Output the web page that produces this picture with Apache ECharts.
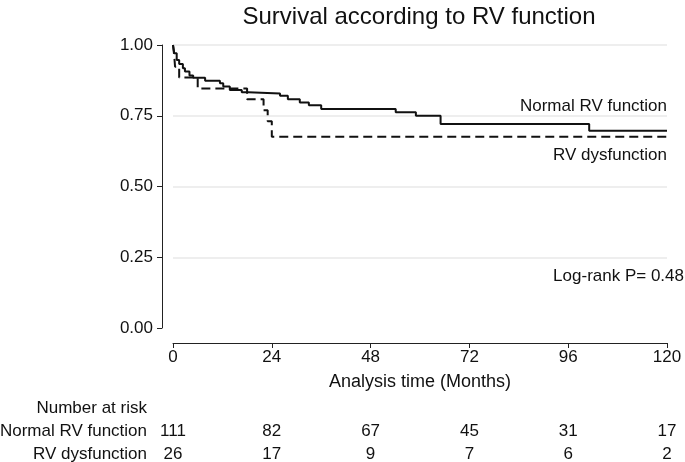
<!DOCTYPE html>
<html><head><meta charset="utf-8">
<script src="https://cdn.jsdelivr.net/npm/echarts@6/dist/echarts.min.js"></script>
<style>html,body{margin:0;padding:0;background:#fff}#c{width:685px;height:462px}</style>
</head><body><div id="c"></div>
<script>
// Kaplan-Meier step points [months, survival]
const normalRV = [[0,1],[0.3,0.971],[0.9,0.947],[1.5,0.933],[2.4,0.918],[2.9,0.906],[4.0,0.892],[4.9,0.884],[7.8,0.874],[11.4,0.865],[12.2,0.853],[13.8,0.841],[16.7,0.833],[18.3,0.829],[26,0.821],[27.9,0.808],[30.8,0.797],[33,0.787],[36,0.774],[54.1,0.762],[59,0.750],[65,0.721],[101.1,0.697],[120,0.697]];
const rvDysfunction = [[0,1],[0.3,0.962],[0.5,0.923],[1.5,0.885],[6,0.846],[18,0.808],[22,0.769],[23,0.731],[24,0.676],[120,0.676]];
const seriesNames = ['Normal RV function','RV dysfunction'];
const xTicks = [0,24,48,72,96,120];
const yTicks = [0,0.25,0.5,0.75,1];
const riskNormal = [111,82,67,45,31,17];
const riskDys = [26,17,9,7,6,2];
const pValueText = 'Log-rank P= 0.48';

const FONT = 'Liberation Sans, Arial, sans-serif';
const TXT = '#111';
const chart = echarts.init(document.getElementById('c'), null, {renderer:'canvas'});
const xStep = xTicks[1]-xTicks[0];
function riskAxis(values, margin){
  return {type:'value', gridIndex:0, position:'bottom', offset:15, min:xTicks[0], max:xTicks[xTicks.length-1], interval:xStep,
    axisLine:{show:false, onZero:false}, axisTick:{show:false}, splitLine:{show:false},
    axisLabel:{margin:margin, fontSize:17, color:TXT, fontFamily:FONT, showMinLabel:true, showMaxLabel:true,
      formatter:v=>{const i=xTicks.indexOf(v);return i>=0?String(values[i]):'';}}};
}
chart.setOption({
  animation:false,
  backgroundColor:'#fff',
  title:{text:'Survival according to RV function', left:414, textAlign:'center', top:0,
    textStyle:{fontSize:24, fontWeight:'normal', color:TXT, fontFamily:FONT}},
  grid:{left:173, right:18, top:45, bottom:134, containLabel:false, outerBoundsMode:'none'},
  xAxis:[
    {type:'value', gridIndex:0, position:'bottom', offset:15, min:xTicks[0], max:xTicks[xTicks.length-1], interval:xStep,
      name:'Analysis time (Months)', nameLocation:'middle', nameGap:30,
      nameTextStyle:{fontSize:18, color:TXT, fontFamily:FONT},
      axisLine:{show:true, onZero:false, lineStyle:{color:'#222', width:1}},
      axisTick:{show:true, length:5, lineStyle:{color:'#222'}},
      axisLabel:{margin:6, fontSize:17, color:TXT, fontFamily:FONT, showMinLabel:true, showMaxLabel:true},
      splitLine:{show:false}},
    riskAxis(riskNormal, 80),
    riskAxis(riskDys, 103)
  ],
  yAxis:{type:'value', min:yTicks[0], max:yTicks[yTicks.length-1], interval:yTicks[1]-yTicks[0], offset:11,
    axisLine:{show:true, onZero:false, lineStyle:{color:'#222', width:1}},
    axisTick:{show:true, length:5, lineStyle:{color:'#222'}},
    axisLabel:{margin:9, fontSize:17, color:TXT, fontFamily:FONT, formatter:v=>v.toFixed(2)},
    splitLine:{show:true, lineStyle:{color:['rgba(0,0,0,0)','#e9e9e9','#e9e9e9','#e9e9e9','#e9e9e9'], width:1.5}}},
  series:[
    {name:seriesNames[0], type:'line', step:'end', data:normalRV, showSymbol:false, symbol:'none',
      lineStyle:{color:'#111', width:2}},
    {name:seriesNames[1], type:'line', step:'end', data:rvDysfunction, showSymbol:false, symbol:'none',
      lineStyle:{color:'#111', width:2, type:[9,5]}}
  ],
  graphic:[
    {type:'text', x:667, y:106, style:{text:seriesNames[0], font:'17px '+FONT, fill:TXT, align:'right', verticalAlign:'middle'}},
    {type:'text', x:667, y:155, style:{text:seriesNames[1], font:'17px '+FONT, fill:TXT, align:'right', verticalAlign:'middle'}},
    {type:'text', x:684, y:276, style:{text:pValueText, font:'17px '+FONT, fill:TXT, align:'right', verticalAlign:'middle'}},
    {type:'text', x:147, y:408, style:{text:'Number at risk', font:'17px '+FONT, fill:TXT, align:'right', verticalAlign:'middle'}},
    {type:'text', x:147, y:431, style:{text:seriesNames[0], font:'17px '+FONT, fill:TXT, align:'right', verticalAlign:'middle'}},
    {type:'text', x:147, y:454, style:{text:seriesNames[1], font:'17px '+FONT, fill:TXT, align:'right', verticalAlign:'middle'}}
  ]
});
</script></body></html>
